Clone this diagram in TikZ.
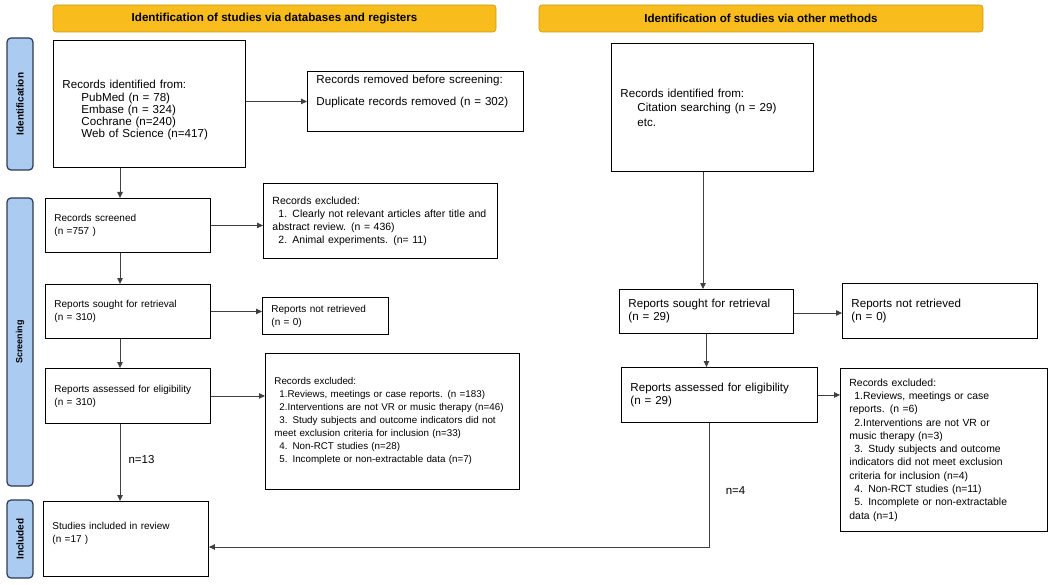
\documentclass[tikz,border=0pt]{standalone}
\usepackage{fontspec}
\setmainfont{Liberation Sans}
\usetikzlibrary{arrows.meta}

\definecolor{headgold}{HTML}{F8BC1C}
\definecolor{headedge}{HTML}{C99A1A}
\definecolor{phasefill}{HTML}{ABCBF1}
\definecolor{phaseedge}{HTML}{2B3A52}

\begin{document}
\begin{tikzpicture}[x=1pt, y=-1pt,
    font=\fontsize{10}{13}\selectfont,
    header/.style={rectangle, rounded corners=3pt, fill=headgold, draw=headedge, line width=0.6pt,
        minimum height=27pt, font=\fontsize{11.6}{13}\selectfont\bfseries},
    phase/.style={rectangle, rounded corners=4pt, fill=phasefill, draw=phaseedge, line width=1.2pt,
        rotate=90, minimum height=26pt, font=\fontsize{10}{12}\selectfont\bfseries},
    box/.style={rectangle, draw, line width=0.9pt, anchor=north west, align=left,
        inner xsep=9pt, inner ysep=2pt},
    large/.style={font=\fontsize{11.6}{13}\selectfont},
    arr/.style={draw=black!75, line width=0.8pt, -{Triangle[length=6pt, width=5.5pt]}},
    count/.style={font=\fontsize{11.5}{13}\selectfont}]

\useasboundingbox (0,0) rectangle (1048,585);

% Headers on top
\node[header, minimum width=443pt] (dbhead) at (274.5,18.5) {Identification of studies via databases and registers};
\node[header, minimum width=444pt] (othead) at (761,18.5) {Identification of studies via other methods};

% Phase bars on the left
\node[phase, minimum width=132pt] (idbar) at (20,104) {Identification};
\node[phase, minimum width=288pt, font=\fontsize{9}{11}\selectfont\bfseries] (scbar) at (20,342) {Screening};
\node[phase, minimum width=78pt] (inbar) at (20,539) {Included};

% Databases and registers
\node[box, font=\fontsize{11.6}{12.2}\selectfont, text width=174pt, minimum height=127pt] (ident) at (53,40)
    {\rule{0pt}{21pt}Records identified from:\\
     \hspace*{19pt}PubMed (n = 78)\\
     \hspace*{19pt}Embase (n = 324)\\
     \hspace*{19pt}Cochrane (n=240)\\
     \hspace*{19pt}Web of Science (n=417)};
\node[box, large, text width=198pt, minimum height=60pt] (removed) at (307,71)
    {Records removed before screening:\\[9pt]
     Duplicate records removed (n = 302)\\[9pt]\mbox{}};
\node[box, text width=147pt, minimum height=54pt] (screened) at (45,198)
    {Records screened\\(n =757 )};
\node[box, font=\fontsize{10.5}{13}\selectfont, text width=216pt, minimum height=75pt] (exclA) at (263,183)
    {Records excluded:\\
     \hspace*{6pt}1. Clearly not relevant articles after title and\\
     abstract review. (n = 436)\\
     \hspace*{6pt}2. Animal experiments. (n= 11)};
\node[box, text width=147pt, minimum height=54pt] (sought) at (45,284)
    {Reports sought for retrieval\\(n = 310)};
\node[box, text width=108pt, minimum height=37pt] (notret) at (262,297)
    {Reports not retrieved\\(n = 0)};
\node[box, text width=147pt, minimum height=55pt] (assessed) at (45,368)
    {Reports assessed for eligibility\\(n = 310)};
\node[box, font=\fontsize{9.8}{13}\selectfont, text width=236pt, minimum height=136pt] (exclB) at (265,353)
    {Records excluded:\\
     \hspace*{5pt}1.Reviews, meetings or case reports. (n =183)\\
     \hspace*{5pt}2.Interventions are not VR or music therapy (n=46)\\
     \hspace*{5pt}3. Study subjects and outcome indicators did not\\
     meet exclusion criteria for inclusion (n=33)\\
     \hspace*{5pt}4. Non-RCT studies (n=28)\\
     \hspace*{5pt}5. Incomplete or non-extractable data (n=7)};
\node[box, text width=147pt, minimum height=75pt] (included) at (43,501)
    {Studies included in review\\(n =17 )\\ \mbox{}};

% Other methods
\node[box, font=\fontsize{11.6}{14.5}\selectfont, text width=184pt, minimum height=128pt] (identR) at (611,43)
    {Records identified from:\\
     \hspace*{17pt}Citation searching (n = 29)\\
     \hspace*{17pt}etc.};
\node[box, large, text width=156pt, minimum height=44pt] (soughtR) at (619,289)
    {Reports sought for retrieval\\(n = 29)};
\node[box, large, text width=177pt, minimum height=55pt] (notretR) at (842,283)
    {Reports not retrieved\\(n = 0)};
\node[box, large, text width=178pt, minimum height=55pt] (assessedR) at (621,367)
    {Reports assessed for eligibility\\(n = 29)};
\node[box, font=\fontsize{10.4}{13.3}\selectfont, text width=189pt, minimum height=163pt] (exclR) at (840,368)
    {Records excluded:\\
     \hspace*{5pt}1.Reviews, meetings or case\\
     reports. (n =6)\\
     \hspace*{5pt}2.Interventions are not VR or\\
     music therapy (n=3)\\
     \hspace*{5pt}3. Study subjects and outcome\\
     indicators did not meet exclusion\\
     criteria for inclusion (n=4)\\
     \hspace*{5pt}4. Non-RCT studies (n=11)\\
     \hspace*{5pt}5. Incomplete or non-extractable\\
     data (n=1)};

% Connectors, left column
\draw[arr] (ident.south -| 120,0) -- (screened.north -| 120,0);
\draw[arr] (screened.south -| 120,0) -- (sought.north -| 120,0);
\draw[arr] (sought.south -| 120,0) -- (assessed.north -| 120,0);
\draw[arr] (assessed.south -| 120,0) -- (included.north -| 120,0);
\draw[arr] (removed.west -| ident.east) -- (removed.west);
\draw[arr] (screened.east) -- (screened.east -| exclA.west);
\draw[arr] (sought.east) -- (sought.east -| notret.west);
\draw[arr] (assessed.east) -- (assessed.east -| exclB.west);
\node[count] (nleft) at (141.5,460) {n=13};

% Connectors, right column
\draw[arr] (identR.south -| 703,0) -- (soughtR.north -| 703,0);
\draw[arr] (soughtR.south) -- (soughtR.south |- assessedR.north);
\draw[arr] (soughtR.east |- 0,313) -- (notretR.west |- 0,313);
\draw[arr] (assessedR.east) -- (assessedR.east -| exclR.west);
\draw[arr] (assessedR.south -| 709,0) |- (included.east |- 0,547);
\node[count] (nright) at (735.5,491) {n=4};

\end{tikzpicture}
\end{document}
